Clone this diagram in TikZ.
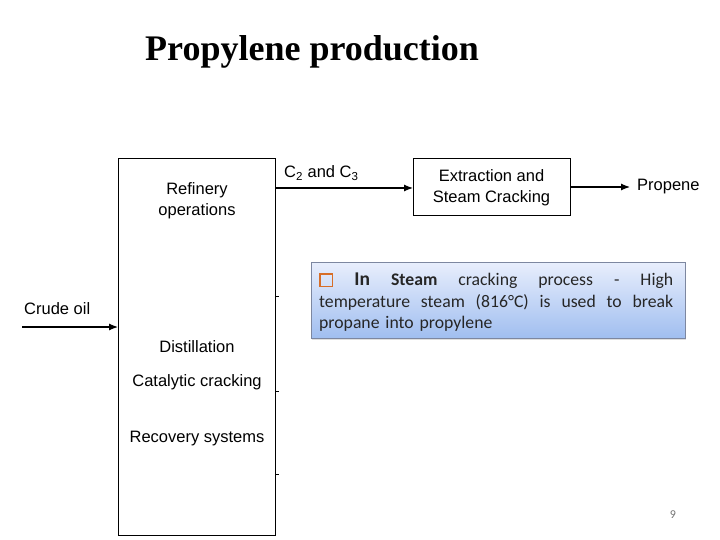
\documentclass[tikz,border=0pt]{standalone}
\usepackage{fontspec}
\setmainfont{Liberation Sans}
\newfontfamily\titlefont{Liberation Serif}
\newfontfamily\calfont{Carlito}
\usetikzlibrary{arrows.meta,shadows}
\definecolor{boxorange}{RGB}{215,110,40}
\definecolor{bordergray}{RGB}{125,135,160}
\definecolor{topblue}{RGB}{232,238,252}
\definecolor{botblue}{RGB}{160,190,240}
\tikzset{
  flowbox/.style={draw, line width=1.3bp, inner sep=0pt},
  lbl/.style={font=\fontsize{16.5bp}{19bp}\selectfont, inner sep=0pt, align=center},
  flowarrow/.style={line width=1.2bp, -{Latex[length=9bp,width=7bp]}},
  noteshape/.style={draw=bordergray, line width=0.8bp, top color=topblue, bottom color=botblue,
     drop shadow={shadow xshift=1bp, shadow yshift=-2bp, opacity=0.25}}
}
\begin{document}
\begin{tikzpicture}[x=1bp,y=-1bp]
\useasboundingbox (0,0) rectangle (720,540);
% title
\node[font=\titlefont\bfseries\fontsize{36bp}{40bp}\selectfont, anchor=base west, inner sep=0pt] (title) at (145,61) {Propylene production};
% main box
\node[flowbox, minimum width=157bp, minimum height=377bp, anchor=north west] (main) at (118,158) {};
\node[lbl] (refinery) at (197,200.5) {Refinery\\[1.5bp]operations};
\node[lbl] (dist) at (197,347) {Distillation};
\node[lbl] (cat) at (197,382) {Catalytic cracking};
\node[lbl] (rec) at (197,439) {Recovery systems};
% ticks on right side of main box
\coordinate (t1) at (275,296); \coordinate (t1e) at (279,296);
\coordinate (t2) at (275,391); \coordinate (t2e) at (279,391);
\coordinate (t3) at (275,474); \coordinate (t3e) at (279,474);
\draw[line width=1bp] (t1) -- (t1e) (t2) -- (t2e) (t3) -- (t3e);
% crude oil
\coordinate (crude) at (22,327);
\node[lbl, anchor=west] (crudelbl) at (24,309) {Crude oil};
\draw[flowarrow] (crude) -- (crude -| main.west);
% extraction box
\node[flowbox, minimum width=157bp, minimum height=57bp, anchor=north west] (ext) at (413,158) {};
\node[lbl] (exttxt) at (491.5,187.5) {Extraction and\\[1.5bp]Steam Cracking};
\coordinate (c23) at (275,188);
\draw[flowarrow] (c23) -- (c23 -| ext.west);
\node[lbl, anchor=west] (c23lbl) at (284,173) {C\textsubscript{2} and C\textsubscript{3}};
% propene
\node[lbl, anchor=west] (propene) at (637,187) {Propene};
\draw[flowarrow, shorten >=7bp] (ext.east |- propene) -- (propene.west);
% note
\node[noteshape, minimum width=374bp, minimum height=76bp, anchor=north west] (note) at (311,262) {};
\node[anchor=north west, inner sep=0pt, text width=354bp, font=\calfont\fontsize{17.7bp}{21.5bp}\selectfont, text=black!85] (notetxt) at (319,273) {%
\textcolor{boxorange}{\fboxrule=1.6bp\fboxsep=0pt\fbox{\rule{0pt}{11bp}\hspace{11bp}}}\hspace{\fill}{\fontsize{19.5bp}{21.5bp}\selectfont\bfseries In}\hspace{\fill}\textbf{Steam}\hspace{\fill}cracking\hspace{\fill}process\hspace{\fill}-\hspace{\fill}High\\
temperature\hspace{\fill}steam\hspace{\fill}(816\textdegree C)\hspace{\fill}is\hspace{\fill}used\hspace{\fill}to\hspace{\fill}break\\
propane into propylene};
% page number
\node[font=\calfont\fontsize{12bp}{14bp}\selectfont, text=black!55, inner sep=0pt] (pnum) at (673,515) {9};
\end{tikzpicture}
\end{document}
